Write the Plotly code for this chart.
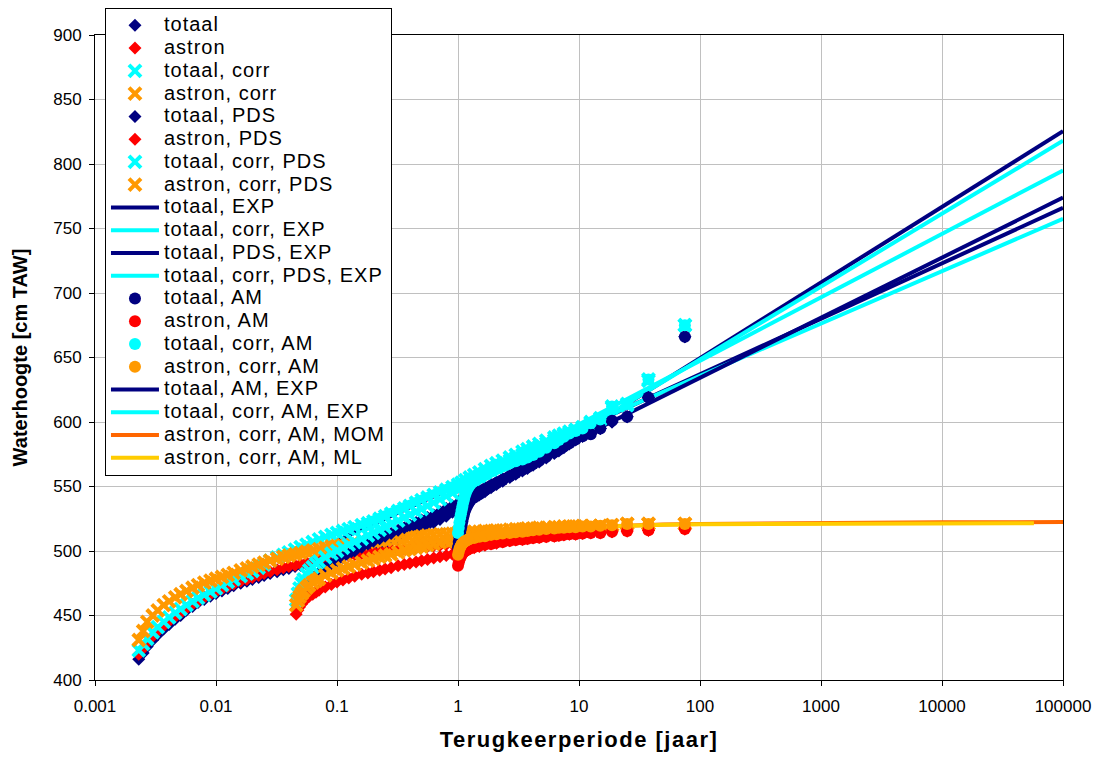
import plotly.graph_objects as go

# ---------------- data ----------------
# return periods (jaar) of the plotted points: all high waters, PDS, annual maxima
T_ALL = [0.0023, 0.0025, 0.0027, 0.003, 0.0033, 0.0037, 0.0041, 0.0046, 0.0051, 0.0057,
         0.0064, 0.0071, 0.008, 0.009, 0.01, 0.0112, 0.0125, 0.014, 0.016, 0.018,
         0.02, 0.0225, 0.025, 0.028, 0.032, 0.036, 0.04, 0.045, 0.05, 0.056,
         0.063, 0.071, 0.08, 0.09, 0.1, 0.112, 0.125, 0.14, 0.16, 0.18,
         0.2, 0.225, 0.25, 0.28, 0.32, 0.36, 0.4, 0.45, 0.5, 0.56,
         0.63, 0.71, 0.8, 0.9, 1.0, 1.07, 1.15, 1.25, 1.36, 1.5,
         1.67, 1.875, 2.08, 2.34, 2.68, 3.0, 3.41, 3.75, 4.17, 4.69,
         5.36, 6.25, 6.82, 7.5, 8.33, 9.375, 10.7, 12.5, 15.0, 18.75,
         25.0, 37.5, 75.0]
totaal = [416, 421, 426, 431, 435, 439.5, 443, 447, 450, 454,
          457, 460, 462.5, 465, 467, 469, 471, 473, 475, 476.5,
          478, 479.5, 481, 482.5, 484, 485.5, 486.5, 488, 489, 490,
          491, 492, 493, 494, 495, 496, 497, 498.5, 500, 501.5,
          503, 504.5, 506, 507.5, 510, 512, 514, 516, 518, 520,
          522, 524.5, 527, 530, 533, 535, 537, 539, 541, 543.5,
          546, 549, 551.5, 554, 557, 559.5, 562, 564, 566.5, 569,
          572, 575.5, 577.5, 580, 583, 586, 589, 591, 595, 600,
          604, 619, 666]
astron = [420, 424.5, 429, 434, 438, 442, 445.5, 449, 452, 455.5,
          458.5, 461, 464, 466.5, 468.5, 470.5, 472.5, 474.5, 476.5, 478,
          479.5, 481, 482.5, 484, 485.5, 487, 488, 489, 490, 491,
          492, 493, 494, 494.5, 495.5, 496, 496.5, 497, 498, 498.5,
          499, 499.5, 500, 500.5, 501, 501.5, 502, 502.5, 503, 503.5,
          504, 504.5, 505, 505.5, 506, 506.5, 507, 507.5, 508, 508.5,
          509, 509.5, 510, 510.5, 511, 511.5, 512, 512, 512.5, 513,
          513, 513.5, 513.5, 514, 514, 514, 514.5, 514.5, 514.5, 515,
          515.5, 516, 517]
totaal_corr = [423, 428, 432, 437, 441, 445, 448.5, 452, 455, 458,
               461, 463.5, 466, 468.5, 471, 473.5, 476, 478, 480.5, 482.5,
               484.5, 487, 489.5, 492.5, 495, 497, 499, 501, 503, 505,
               507, 509, 511, 512.5, 514, 515.5, 517, 518.5, 520, 521.5,
               523, 525, 527, 529, 531, 533, 535, 537.5, 539.5, 541.5,
               543.5, 545.5, 547.5, 549.5, 551.5, 553, 555, 557, 559, 561,
               563.5, 566, 568, 570, 572.5, 574.5, 577, 579, 581, 583,
               585.5, 588, 589.5, 591, 592.5, 594, 596, 600, 603, 612,
               614, 633, 675]
astron_corr = [431, 438, 445, 450, 454, 458, 461, 464, 466.5, 469,
               471.5, 473.5, 475.5, 477, 478.5, 480, 481.5, 483, 485, 486.5,
               488, 489.5, 491, 492.5, 494, 495.5, 496.5, 497.5, 498.5, 499.5,
               500.5, 501.5, 502.5, 503.5, 504, 504.5, 505, 505.5, 506, 507,
               507.5, 508, 508.5, 509, 509.5, 510, 510.5, 511, 511.5, 512,
               512.5, 513, 513, 513.5, 514, 514, 514.5, 514.5, 515, 515,
               515.5, 515.5, 516, 516, 516.5, 517, 517, 517.5, 517.5, 518,
               518, 518.5, 518.5, 519, 519, 519, 519.5, 519.5, 519.5, 520,
               521, 521, 521]

T_PDS = [0.046, 0.0475, 0.049, 0.051, 0.053, 0.056, 0.059, 0.063, 0.067, 0.071,
         0.08, 0.09, 0.1, 0.112, 0.125, 0.14, 0.16, 0.18, 0.2, 0.225,
         0.25, 0.28, 0.32, 0.36, 0.4, 0.45, 0.5, 0.56, 0.63, 0.71, 0.8, 0.9,
         1.0, 1.07, 1.15, 1.25, 1.36, 1.5, 1.67, 1.875, 2.08, 2.34,
         2.68, 3.0, 3.41, 3.75, 4.17, 4.69, 5.36, 6.25, 6.82, 7.5,
         8.33, 9.375, 10.7, 12.5, 15.0, 18.75, 25.0, 37.5, 75.0]
totaal_pds = [455, 459, 462.5, 466, 469, 472.5, 475.5, 478.5, 481, 483,
              487, 490, 492.5, 495, 497.5, 500, 503, 505.5, 507.5, 509.5,
              511.5, 513.5, 516, 518, 520, 522, 524, 526, 528, 530.5, 533, 535,
              537, 539, 541, 543, 545, 547, 549, 551.5, 553.5, 556,
              558.5, 561, 563.5, 565.5, 568, 570.5, 573.5, 577, 579, 581.5,
              584, 587, 589, 591, 595, 600, 604, 619, 666]
astron_pds = [451, 454, 456.5, 459, 461, 463, 465, 466.5, 468, 469.5,
              472, 474, 476, 477.5, 479, 480.5, 482, 483, 484, 485,
              486, 487, 488.5, 489.5, 490.5, 491.5, 492.5, 493.5, 494.5, 495.5, 496.5, 497.5,
              498.5, 499.5, 500.5, 501.5, 502.5, 503.5, 504.5, 505.5, 506, 507,
              508, 508.5, 509, 509.5, 510, 510.5, 511, 511.5, 512, 512.5,
              513, 513, 513.5, 514, 514, 515, 515.5, 516, 517]
totaal_corr_pds = [462, 467, 471, 475, 478, 482, 485, 487.5, 490, 492,
                   495, 498, 500, 502.5, 505, 507, 509.5, 512, 514, 516.5,
                   518.5, 521, 523.5, 526, 528, 530.5, 532.5, 535, 537.5, 540, 542.5, 545,
                   548, 550, 552, 554, 556, 558, 560.5, 563, 565, 567,
                   570, 572, 574.5, 576.5, 578.5, 581, 583.5, 586, 588, 590,
                   591.5, 593.5, 595.5, 599, 602, 611, 613, 632, 675]
astron_corr_pds = [458, 461.5, 464.5, 467, 469, 471.5, 473.5, 475.5, 477, 478.5,
                   481, 483, 485, 486.5, 488, 489.5, 491, 492.5, 494, 495.5,
                   496.5, 497.5, 499, 500.5, 501.5, 502.5, 503.5, 504.5, 505.5, 506.5, 507.5, 508,
                   508.5, 509, 509.5, 510, 510.5, 511, 511.5, 512.5, 513, 513.5,
                   514, 514.5, 515, 515.5, 516, 516.5, 517, 517.5, 518, 518,
                   518.5, 518.5, 519, 519, 519.5, 520, 521, 521, 521]

T_AM = [1.0, 1.014, 1.027, 1.042, 1.056, 1.071, 1.087, 1.103, 1.12, 1.14, 1.16, 1.19, 1.22,
        1.25, 1.36, 1.5, 1.67, 1.875, 2.08, 2.34, 2.68, 3.0, 3.41, 3.75, 4.17, 4.69,
        5.36, 6.25, 6.82, 7.5, 8.33, 9.375, 10.7, 12.5, 15.0, 18.75, 25.0, 37.5, 75.0]
totaal_am = [503, 507, 510.5, 514, 517, 520, 523, 526, 528.5, 531, 533, 535, 537,
             538.5, 541.5, 544, 547, 550, 552.5, 555, 558, 560.5, 563, 565, 567.5, 570,
             573, 576.5, 578.5, 581, 583.5, 586.5, 589, 590.5, 595, 601, 604, 619, 666]
astron_am = [488.5, 491, 493, 494.5, 496, 497, 498, 499, 499.5, 500, 500.5, 501, 501.5,
             502, 503, 504, 505, 505.5, 506.5, 507, 508, 508.5, 509, 509.5, 510, 510.5,
             511, 511.5, 512, 512.5, 513, 513, 513.5, 514, 514, 515, 515.5, 516, 517]
totaal_corr_am = [514, 518, 522, 525.5, 528.5, 531.5, 534.5, 537.5, 540, 543, 545, 547.5, 549.5,
                  551, 554, 556.5, 559, 561.5, 563.5, 565.5, 568, 569.5, 571, 572.5, 574.5, 577,
                  580, 583.5, 586, 588.5, 591, 593, 595, 599, 602, 612, 614, 633, 675]
astron_corr_am = [497, 499.5, 501.5, 503, 504, 505, 506, 506.5, 507, 507.5, 508, 508.5, 509,
                  509.5, 510, 511, 511.5, 512.5, 513, 513.5, 514, 514.5, 515, 515.5, 516, 516.5,
                  517, 517.5, 518, 518, 518.5, 518.5, 519, 519, 519.5, 520, 521, 521, 521]

# fitted exponential lines (straight on log axis): end points
fit_names = ["totaal, EXP", "totaal, corr, EXP", "totaal, PDS, EXP",
             "totaal, corr, PDS, EXP", "totaal, AM, EXP", "totaal, corr, AM, EXP"]
fit_T = [[1, 100000], [1, 100000], [0.1, 100000], [0.1, 100000], [1, 100000], [1, 100000]]
fit_H = [[532, 825.5], [535.5, 818], [508, 766], [514, 757.5], [541, 774], [549, 795]]

# GEV-type fits of the corrected astronomical annual maxima
mom_T = [1, 1.2, 1.5, 2, 3, 5, 10, 20, 50, 100, 1000, 10000, 100000]
mom_H = [503, 507, 510, 512.5, 515, 517, 518.5, 519.5, 520.5, 521, 521.8, 522.2, 522.4]
ml_T = [1, 1.2, 1.5, 2, 3, 5, 10, 20, 50, 100, 1000, 10000, 57500]
ml_H = [500, 505, 508.5, 511.5, 514, 516.5, 518.5, 519.5, 520.3, 520.8, 521.2, 521.4, 521.5]

x_ticks = [0.001, 0.01, 0.1, 1, 10, 100, 1000, 10000, 100000]
x_ticktext = ["0.001", "0.01", "0.1", "1", "10", "100", "1000", "10000", "100000"]

# ---------------- styling ----------------
NAVY, RED, CYAN, ORANGE = "#000080", "#FF0000", "#00FFFF", "#FF9900"
MOMC, MLC = "#FF6600", "#FFCC00"


def nm(s):
    return '<span style="font-size:20px;letter-spacing:1px">%s</span>' % s


def diamond(color):
    return dict(symbol="diamond", size=10, color=color, line=dict(width=0))


def cross(color):
    return dict(symbol="x-thin", size=12, color=color, line=dict(width=4, color=color))


def circle(color):
    return dict(symbol="circle", size=12, color=color, line=dict(width=0))


fig = go.Figure()

# fitted lines drawn first (below the points); legend order set by legendrank
fit_colors = [NAVY, CYAN, NAVY, CYAN, NAVY, CYAN]
fit_rank = [9, 10, 11, 12, 17, 18]
for name, tt, hh, c, r in zip(fit_names, fit_T, fit_H, fit_colors, fit_rank):
    fig.add_trace(go.Scatter(x=tt, y=hh, mode="lines", name=nm(name),
                             line=dict(color=c, width=4), legendrank=r))
fig.add_trace(go.Scatter(x=mom_T, y=mom_H, mode="lines", name=nm("astron, corr, AM, MOM"),
                         line=dict(color=MOMC, width=4), legendrank=19))
fig.add_trace(go.Scatter(x=ml_T, y=ml_H, mode="lines", name=nm("astron, corr, AM, ML"),
                         line=dict(color=MLC, width=4), legendrank=20))

pts = [
    ("totaal", T_ALL, totaal, diamond(NAVY), 1),
    ("astron", T_ALL, astron, diamond(RED), 2),
    ("totaal, corr", T_ALL, totaal_corr, cross(CYAN), 3),
    ("astron, corr", T_ALL, astron_corr, cross(ORANGE), 4),
    ("totaal, PDS", T_PDS, totaal_pds, diamond(NAVY), 5),
    ("astron, PDS", T_PDS, astron_pds, diamond(RED), 6),
    ("totaal, corr, PDS", T_PDS, totaal_corr_pds, cross(CYAN), 7),
    ("astron, corr, PDS", T_PDS, astron_corr_pds, cross(ORANGE), 8),
    ("totaal, AM", T_AM, totaal_am, circle(NAVY), 13),
    ("astron, AM", T_AM, astron_am, circle(RED), 14),
    ("totaal, corr, AM", T_AM, totaal_corr_am, circle(CYAN), 15),
    ("astron, corr, AM", T_AM, astron_corr_am, circle(ORANGE), 16),
]
for name, tt, hh, mk, r in pts:
    fig.add_trace(go.Scatter(x=tt, y=hh, mode="markers", name=nm(name),
                             marker=mk, legendrank=r))

axis_common = dict(showgrid=True, gridcolor="#C0C0C0", gridwidth=1,
                   showline=True, linecolor="black", linewidth=1, mirror=True,
                   ticks="outside", ticklen=5, tickcolor="black",
                   tickfont=dict(size=17, color="black"), zeroline=False)

fig.update_layout(
    width=1098, height=750,
    margin=dict(l=87, r=43, t=27, b=78, autoexpand=False),
    paper_bgcolor="white", plot_bgcolor="white",
    font=dict(family="Arial, 'Liberation Sans', sans-serif", color="black"),
    showlegend=True,
    legend=dict(x=0.0103, y=1.0419, xanchor="left", yanchor="top",
                bgcolor="white", bordercolor="black", borderwidth=1,
                font=dict(size=15.2, color="black"), itemwidth=48,
                maxheight=740, tracegroupgap=0, traceorder="normal"),
    xaxis=dict(type="log", range=[-3, 5], tickvals=x_ticks, ticktext=x_ticktext,
               ticklabelstandoff=6,
               title=dict(text='<b><span style="letter-spacing:1.5px">Terugkeerperiode [jaar]</span></b>',
                          font=dict(size=22), standoff=16),
               **axis_common),
    yaxis=dict(range=[400, 900], tick0=400, dtick=50, ticklabelstandoff=4,
               title=dict(text="<b>Waterhoogte [cm TAW]</b>", font=dict(size=20), standoff=20),
               **axis_common),
)

fig.write_html("out.html")
